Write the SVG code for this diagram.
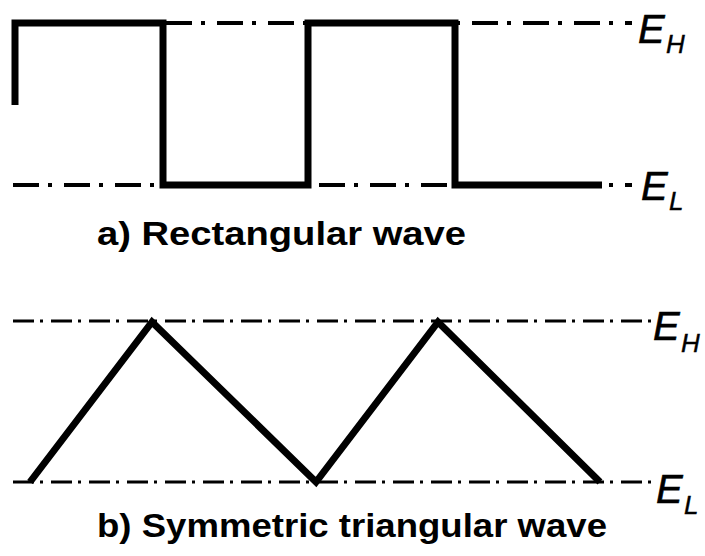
<svg xmlns="http://www.w3.org/2000/svg" width="705" height="556" viewBox="0 0 705 556">
<style>
.ref1{stroke:#000;stroke-width:4;fill:none;stroke-dasharray:26 9 4 12}
.ref2{stroke:#000;stroke-width:3;fill:none;stroke-dasharray:21 6 3 8}
.wave{stroke:#000;stroke-width:7;fill:none;stroke-linejoin:miter;stroke-linecap:butt}
.lbl{font-family:"Liberation Sans",Arial,sans-serif;font-weight:bold;font-size:33px;fill:#000}
.E{font-family:"Liberation Sans",Arial,sans-serif;font-style:italic;font-size:40px;fill:#000;stroke:#000;stroke-width:0.6}
.sub{font-family:"Liberation Sans",Arial,sans-serif;font-style:italic;font-size:26px;fill:#000;stroke:#000;stroke-width:0.4}
</style>
<g id="connectors">
<line class="ref1" x1="13" y1="23" x2="632" y2="23"/>
<line class="ref1" x1="13" y1="185" x2="632" y2="185"/>
<line class="ref2" x1="13" y1="321" x2="652" y2="321"/>
<line class="ref2" x1="13" y1="482" x2="652" y2="482"/>
</g>
<g id="rect-wave">
<polyline class="wave" points="15,105 15,23 163,23 163,185 308,185 308,23 455,23 455,185 602,185"/>
</g>
<g id="tri-wave">
<polyline class="wave" points="30,482 152,322 316,482 438,322 600,482"/>
</g>
<g id="label-EH1"><text class="E" x="638" y="43">E</text><text class="sub" x="666" y="53">H</text></g>
<g id="label-EL1"><text class="E" x="641" y="200">E</text><text class="sub" x="669" y="210">L</text></g>
<g id="label-EH2"><text class="E" x="653" y="340">E</text><text class="sub" x="681" y="352">H</text></g>
<g id="label-EL2"><text class="E" x="656" y="503">E</text><text class="sub" x="684" y="514">L</text></g>
<g id="caption-a"><text class="lbl" x="97" y="245" textLength="369" lengthAdjust="spacingAndGlyphs">a) Rectangular wave</text></g>
<g id="caption-b"><text class="lbl" x="97" y="537" textLength="510" lengthAdjust="spacingAndGlyphs">b) Symmetric triangular wave</text></g>
</svg>
